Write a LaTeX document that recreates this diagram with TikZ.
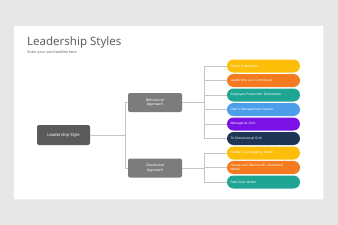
\documentclass[tikz,border=0pt]{standalone}
\usepackage{fontspec}
\setmainfont{Noto Sans}

\definecolor{pagegray}{HTML}{E8E7E7}
\definecolor{titlegray}{HTML}{5F5F5F}
\definecolor{leadgray}{HTML}{5A5A5A}
\definecolor{boxgray}{HTML}{7C7C7C}
\definecolor{linegray}{HTML}{C4C4C4}
\definecolor{pyellow}{HTML}{FDBE0A}
\definecolor{porange}{HTML}{F47B20}
\definecolor{pteal}{HTML}{1FA594}
\definecolor{pblue}{HTML}{4C9EEB}
\definecolor{ppurple}{HTML}{7A12E6}
\definecolor{pnavy}{HTML}{1E3556}

\tikzset{
  box/.style={fill=boxgray, text=white, rounded corners=2pt, minimum width=54, minimum height=19,
    align=center, font=\fontsize{3.6}{4.4}\selectfont},
  pill/.style={text=white, rounded corners=6.5pt, minimum width=73, minimum height=13,
    text width=66, inner xsep=3.5, align=left, font=\fontsize{3.2}{3.9}\selectfont},
  link/.style={draw=linegray, line width=0.5pt}
}

\begin{document}
\begin{tikzpicture}[x=1pt, y=-1pt]
  \useasboundingbox (0,0) rectangle (338,225);
  \fill[pagegray] (0,0) rectangle (338,225);

  % slide
  \fill[black!6] (14.5,26.5) rectangle (323.5,200);
  \fill[white] (14,26) rectangle (323,199);

  % heading
  \node[anchor=base west, inner sep=0, text=titlegray, font=\fontsize{11.5}{13}\selectfont] (title) at (27,45) {Leadership Styles};
  \node[anchor=base west, inner sep=0, text=titlegray, font=\fontsize{3.6}{4}\selectfont] (sub) at (27.5,53.5) {Enter your sub headline here};

  % tree
  \node[box, fill=leadgray, minimum width=53, minimum height=20, font=\fontsize{4.2}{5}\selectfont] (lead) at (63.5,135) {Leadership Style};
  \node[box] (beh) at (155,102.5) {Behavioral\\Approach};
  \node[box] (sit) at (155,168) {Situational\\Approach};

  \node[pill, fill=pyellow] (p1) at (263.5,66) {Power Orientation};
  \node[pill, fill=porange] (p2) at (263.5,80.5) {Leadership as a Continuum};
  \node[pill, fill=pteal] (p3) at (263.5,95) {Employee-Production Orientation};
  \node[pill, fill=pblue] (p4) at (263.5,109.5) {Liker's Management System};
  \node[pill, fill=ppurple] (p5) at (263.5,124) {Managerial Grid};
  \node[pill, fill=pnavy] (p6) at (263.5,138.5) {Tri-Dimensional Grid};
  \node[pill, fill=pyellow] (p7) at (263.5,153) {Fiedler's Contingency Model};
  \node[pill, fill=porange] (p8) at (263.5,167.5) {Hersey and Blanchard's Situational\\Model};
  \node[pill, fill=pteal] (p9) at (263.5,182) {Path-Goal Model};

  % connectors
  \coordinate (j1) at (125,135);
  \coordinate (j2) at (204,102.5);
  \coordinate (j3) at (204,168);
  \draw[link] (lead) -- (j1);
  \draw[link] (j1) |- (beh);
  \draw[link] (j1) |- (sit);
  \draw[link] (beh) -- (j2);
  \draw[link] (sit) -- (j3);
  \foreach \i in {1,...,6} \draw[link] (j2) |- (p\i);
  \foreach \i in {7,8,9} \draw[link] (j3) |- (p\i);
\end{tikzpicture}
\end{document}
